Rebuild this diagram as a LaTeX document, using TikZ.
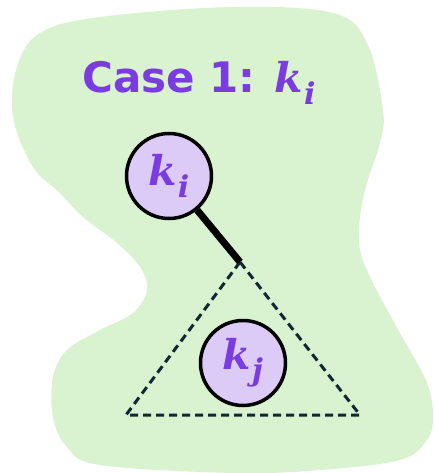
\documentclass[tikz,border=0pt]{standalone}
\usepackage{fontspec}
\setmainfont{DejaVu Sans}
\newfontfamily\kfont{DejaVu Serif}[BoldItalicFont={* Bold Italic}]
\newcommand{\kvar}[1]{{\kfont\bfseries\itshape k\kern0.02em\raisebox{-0.28em}{\fontsize{30}{30}\selectfont #1}}}
\definecolor{blobgreen}{HTML}{D9F2D0}
\definecolor{kpurple}{HTML}{7A3BE0}
\definecolor{nodefill}{HTML}{DCCBF7}
\definecolor{dashnavy}{HTML}{0E2733}
\begin{document}
\begin{tikzpicture}[x=1pt,y=-1pt,
  keynode/.style={circle,draw=black,line width=3.5pt,fill=nodefill,minimum size=85pt,inner sep=0pt,text=kpurple,font=\fontsize{41}{41}\selectfont},
  treeedge/.style={line width=7pt,black},
  subtree/.style={dashnavy,line width=3pt,dash pattern=on 8pt off 5pt},
  titlestyle/.style={text=kpurple,font=\fontsize{42}{42}\selectfont\bfseries,inner sep=0pt}]
\useasboundingbox (0,0) rectangle (433,473);
\fill[blobgreen] plot[smooth cycle,tension=0.6] coordinates {
 (13,117) (17,67) (40,33) (100,17) (233,7) (333,13) (367,43) (383,110) (380,143)
 (367,183) (360,217) (360,250) (373,283) (400,333) (427,383) (433,417) (427,440)
 (400,460) (320,470) (233,473) (100,465) (67,447) (53,417) (53,377) (67,350)
 (100,330) (133,313) (147,290) (140,267) (117,243) (83,217) (60,193) (33,167)};
\node[titlestyle,anchor=base west] (title) at (82,93) {Case 1: {\fontsize{41}{41}\selectfont\kvar{i}}};
\coordinate (apex) at (240,262);
\coordinate (bl) at (126,415);
\coordinate (br) at (360,415);
\draw[subtree] (apex) -- (bl) -- (br) -- cycle;
\node[keynode] (ki) at (169,176) {\kvar{i}};
\node[keynode] (kj) at (243,363) {\kvar{j}};
\draw[treeedge] (ki) -- (apex);
\end{tikzpicture}
\end{document}
